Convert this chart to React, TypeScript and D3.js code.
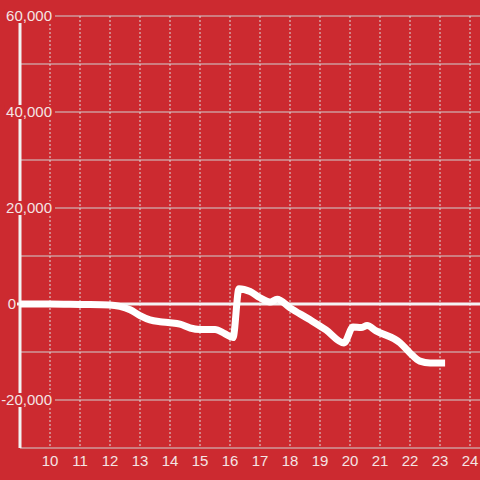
import React from "react";
import * as d3 from "d3";

const hours = [9, 10, 11, 12, 12.33, 12.67, 13, 13.33, 13.67, 14, 14.33, 14.67, 15, 15.5, 15.83, 16.1, 16.3, 16.67, 17, 17.33, 17.57, 18, 18.67, 19.2, 19.8, 20.1, 20.37, 20.57, 20.87, 21.67, 22, 22.33, 22.67, 23.17];
const values = [0, 0, -100, -200, -500, -1200, -2400, -3300, -3700, -3900, -4200, -5000, -5300, -5300, -6200, -7000, 3200, 2600, 1300, 400, 1000, -800, -3300, -5400, -8100, -4800, -4900, -4500, -5600, -8100, -10200, -11900, -12300, -12300];
const xTicks = [10, 11, 12, 13, 14, 15, 16, 17, 18, 19, 20, 21, 22, 23, 24];
const yGrid = [-30000, -20000, -10000, 0, 10000, 20000, 30000, 40000, 50000, 60000];
const yLabels = [-20000, 0, 20000, 40000, 60000];

const W = 480, H = 480;
const BG = "#cc2a30";
const TXT = "#f4e4e4";
const FONT = "'Liberation Sans', Arial, sans-serif";

export default function App() {
  const x = d3.scaleLinear().domain([9, 24]).range([20, 470]);
  const y = d3.scaleLinear().domain([-30000, 60000]).range([448, 16]);
  const pts = hours.map((h, i) => [h, values[i]] as [number, number]);
  const line = d3.line<[number, number]>().x(d => x(d[0])).y(d => y(d[1])).curve(d3.curveMonotoneX);
  const fmt = d3.format(",");
  return (
    <svg width={W} height={H} style={{ position: "absolute", left: 0, top: 0, background: BG }} fontFamily={FONT}>
      <rect x={0} y={0} width={W} height={H} fill={BG} />
      {yGrid.map(v => (
        <line key={"g" + v} x1={x(9)} x2={W} y1={y(v)} y2={y(v)} stroke="#d0d0d0" strokeWidth={1} />
      ))}
      {xTicks.map(t => (
        <line key={"v" + t} x1={x(t)} x2={x(t)} y1={y(60000)} y2={y(-30000)} stroke="#dcdcdc" strokeWidth={1} strokeDasharray="2,2" />
      ))}
      <line x1={x(9)} x2={x(9)} y1={y(60000)} y2={y(-30000)} stroke="#f2f2f2" strokeWidth={3} />
      <line x1={x(9) - 3} x2={W} y1={y(0)} y2={y(0)} stroke="#f4f4f4" strokeWidth={3} />
      {yLabels.map(v => {
        const right = v === 0 ? 16 : 52;
        const s = fmt(v).replace("−", "-");
        const w = s.length * 8.2;
        return (
          <g key={"l" + v}>
            {v !== 0 && <rect x={right - w + 2} y={y(v) - 7} width={w + 1} height={14} fill={BG} />}
            <text x={right} y={y(v)} dy="0.35em" textAnchor="end" fontSize={15} fill={TXT}>{s}</text>
          </g>
        );
      })}
      {xTicks.map(t => (
        <text key={"t" + t} x={x(t)} y={461} dy="0.35em" textAnchor="middle" fontSize={15} fill={TXT}>{t}</text>
      ))}
      <path d={line(pts) ?? ""} fill="none" stroke="#ffffff" strokeWidth={7} strokeLinejoin="round" />
    </svg>
  );
}
